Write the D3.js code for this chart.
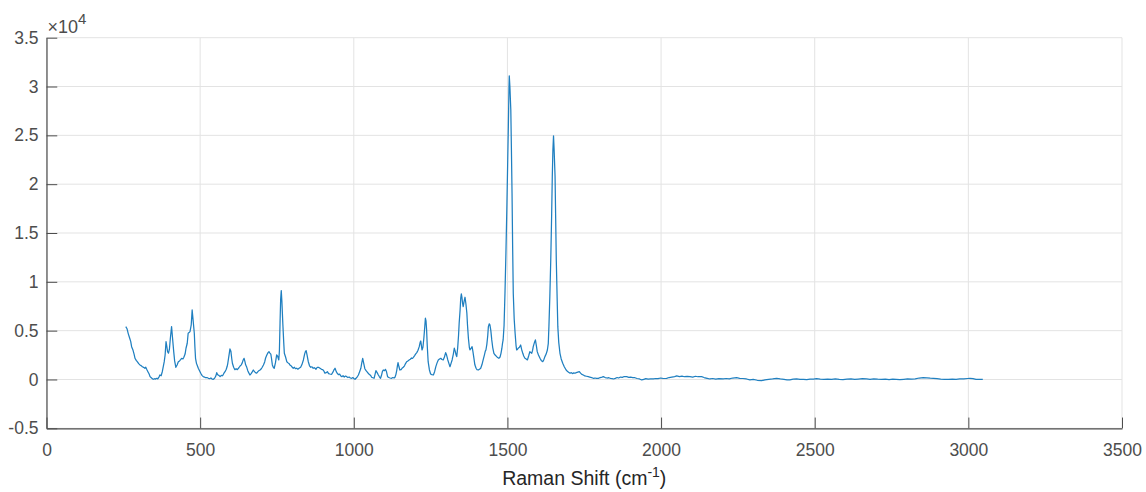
<!DOCTYPE html>
<html>
<head>
<meta charset="utf-8">
<script src="https://cdn.jsdelivr.net/npm/d3@7"></script>
<style>
  html, body { margin: 0; padding: 0; background: #ffffff; }
  svg { display: block; font-family: "Liberation Sans", Arial, sans-serif; }
</style>
</head>
<body>
<svg id="chart" width="1146" height="492"></svg>
<script>
// Raman spectrum: shift (cm^-1) and intensity (counts)
const ramanShift = [
  258,262,266,270,274,277,281,285,288,292,296,300,304,308,312,316,320,323,326,330,
  334,337,341,345,348,352,355,359,362,366,369,373,377,380,383,386,389,392,394,397,
  400,403,407,410,414,417,421,425,429,433,437,440,444,447,451,454,458,461,464,467,
  471,474,477,481,483,485,488,491,494,498,502,506,510,514,518,522,527,531,535,539,
  543,547,551,554,557,561,565,569,573,577,581,585,588,590,594,597,600,603,605,609,
  613,617,621,626,630,634,637,640,643,646,648,651,655,658,662,666,670,673,677,680,
  684,688,691,695,699,702,706,710,713,717,721,724,727,730,732,735,738,741,745,749,
  752,756,758,760,762,764,766,769,772,774,778,782,786,790,792,796,800,803,807,810,
  814,818,822,827,831,836,840,843,845,848,852,856,860,864,868,872,877,881,885,890,
  895,899,903,906,910,914,918,922,928,932,935,939,943,946,950,954,958,961,965,969,
  973,977,981,985,989,993,997,1001,1004,1008,1012,1015,1019,1023,1026,1029,1032,1036,1040,1044,
  1047,1051,1055,1058,1062,1066,1069,1072,1076,1080,1083,1087,1090,1093,1096,1100,1103,1106,1110,1114,
  1118,1123,1127,1131,1134,1137,1140,1142,1144,1147,1150,1154,1157,1161,1165,1168,1172,1176,1180,1184,
  1188,1191,1194,1198,1201,1205,1209,1213,1216,1218,1220,1222,1225,1228,1231,1233,1235,1237,1239,1242,
  1246,1250,1254,1259,1263,1267,1271,1275,1279,1283,1287,1291,1295,1299,1302,1306,1310,1313,1316,1320,
  1324,1327,1330,1333,1335,1338,1341,1343,1346,1348,1350,1352,1354,1356,1359,1362,1365,1368,1370,1373,
  1376,1378,1381,1385,1388,1391,1394,1398,1401,1405,1409,1413,1417,1421,1425,1428,1430,1433,1436,1438,
  1441,1443,1446,1449,1452,1456,1460,1465,1468,1472,1476,1479,1482,1484,1486,1489,1492,1495,1498,1501,
  1503,1505,1506,1508,1511,1513,1515,1517,1519,1522,1525,1528,1530,1533,1535,1539,1543,1546,1550,1553,
  1557,1561,1565,1569,1573,1576,1579,1582,1584,1588,1591,1594,1597,1601,1606,1610,1615,1618,1622,1626,
  1630,1633,1635,1638,1641,1644,1646,1648,1650,1652,1655,1657,1659,1662,1664,1667,1671,1675,1680,1685,
  1691,1695,1699,1704,1708,1712,1716,1720,1724,1729,1734,1738,1742,1747,1752,1757,1763,1768,1774,1779,
  1785,1790,1796,1802,1808,1812,1818,1824,1830,1836,1841,1845,1851,1857,1862,1868,1874,1880,1888,1895,
  1901,1908,1915,1922,1930,1937,1944,1950,1958,1966,1975,1983,1990,1999,2008,2018,2026,2035,2044,2051,
  2060,2068,2076,2085,2094,2103,2112,2120,2132,2140,2150,2159,2168,2178,2188,2202,2212,2222,2233,2246,
  2256,2266,2278,2289,2300,2313,2327,2338,2350,2363,2376,2388,2400,2410,2419,2430,2441,2452,2463,2474,
  2485,2496,2506,2518,2530,2542,2555,2567,2580,2592,2605,2618,2630,2642,2655,2669,2680,2692,2705,2717,
  2730,2742,2754,2765,2777,2790,2802,2815,2827,2840,2853,2865,2876,2886,2898,2910,2922,2935,2948,2960,
  2972,2985,2997,3005,3015,3025,3035,3047
];

const intensity = [
  5410,5200,4700,4300,3900,3360,3050,2600,2170,1950,1800,1620,1490,1420,1300,1240,1150,1250,1050,800,
  560,290,180,60,20,80,40,120,60,250,460,380,820,1310,1800,2510,3880,3300,2850,2700,
  3100,4200,5410,4300,2850,1900,1250,1480,1820,1900,2050,2170,2100,2270,2600,3200,3710,4730,4800,4900,
  5600,7120,6100,4730,3300,2170,1650,1400,1150,900,640,420,290,250,180,200,120,80,150,40,
  20,120,350,700,480,420,290,420,380,620,800,1050,1350,1660,2500,3130,2900,2100,1660,1250,
  1000,1100,1000,1200,1380,1500,1700,2000,2170,1800,1500,1310,900,700,460,600,800,970,800,700,
  640,800,900,970,1100,1250,1490,1800,2200,2510,2750,2850,2700,2600,2200,1490,1250,1150,1700,2510,
  2400,2000,3000,5760,8200,9100,8000,5760,3800,2680,2300,1820,1700,1600,1490,1400,1250,1150,1250,1100,
  1150,1050,1150,1250,1500,2000,2600,2900,2950,2500,1820,1400,1250,1300,1150,1200,1050,1250,1250,1150,
  1040,1000,850,640,700,800,600,560,530,750,950,1150,800,640,500,550,350,290,380,250,
  350,290,200,250,150,120,200,60,20,150,300,460,800,1150,1700,2170,1700,1100,900,750,
  640,500,400,230,180,120,500,900,700,460,300,120,400,800,970,900,1040,850,290,200,
  150,120,200,150,230,500,970,1400,1720,1300,970,1000,1150,1250,1400,1600,1820,1900,2000,2070,
  2200,2150,2270,2450,2600,2750,3000,3360,3800,3940,3500,3020,3300,4220,5400,6270,6000,5070,3500,1820,
  1000,560,500,460,800,1310,1700,2000,2100,2170,2050,2000,2300,2750,2500,2000,1600,1310,1600,2000,
  2600,3200,2900,2500,2340,3200,4560,5800,7120,8300,8760,8400,7800,7460,8000,8420,7700,6780,5600,4220,
  3300,3020,3150,3360,2800,2170,1500,1150,1000,970,1050,1150,1500,2000,2500,2900,3020,3600,4500,5410,
  5700,5600,5000,4050,3300,2680,2500,2340,2250,2170,2300,2680,3200,3700,4050,5500,8830,12800,17370,22500,
  25900,29800,31100,30000,27600,23500,19080,13500,8830,6200,4730,3500,3020,3100,3200,3300,3530,3100,2680,2400,
  2170,2100,2000,2400,2850,2750,2680,3000,3360,3800,4050,3500,2850,2500,2170,1950,1820,2000,2340,2600,
  3020,3700,5410,8500,12240,17000,20780,23500,24950,23500,20780,16500,12240,8000,5410,3800,2680,2100,1660,1300,
  970,850,750,640,700,600,680,640,700,750,800,650,520,460,360,330,290,250,200,120,
  150,120,120,200,250,290,200,150,180,100,80,50,120,200,150,250,220,300,290,220,
  250,200,180,100,50,-50,20,80,30,60,50,100,80,150,100,120,200,250,300,360,
  300,350,280,320,290,250,330,280,290,200,120,50,100,30,80,50,100,60,150,180,
  120,100,50,-50,0,-80,-120,-50,20,50,120,50,20,-30,-50,30,60,0,20,-20,
  40,30,80,30,10,40,20,60,10,-10,30,50,0,40,80,50,20,70,30,10,
  40,-20,30,10,-20,20,50,30,60,150,180,170,140,120,80,40,20,0,30,20,
  50,60,100,120,80,20,10,0
];

// Axis ticks
const xTicks = [0, 500, 1000, 1500, 2000, 2500, 3000, 3500];
const yTicks = [-0.5, 0, 0.5, 1, 1.5, 2, 2.5, 3, 3.5];
const yExponent = 4;

const svg = d3.select("#chart");
const margin = { left: 46.5, right: 24, top: 37.7, bottom: 63.7 };
const W = 1146, H = 492;
const plotW = W - margin.left - margin.right;
const plotH = H - margin.top - margin.bottom;

const x = d3.scaleLinear().domain([0, 3500]).range([margin.left, margin.left + plotW]);
const y = d3.scaleLinear().domain([-0.5, 3.5]).range([margin.top + plotH, margin.top]);

const textColor = "#4d4d4d";
const axisColor = "#4d4d4d";
const gridColor = "#e3e3e3";
const tickLen = 10.75;
const fontFamily = "'Liberation Sans', Arial, sans-serif";

// grid
const grid = svg.append("g");
grid.selectAll("line.gx").data(xTicks).enter().append("line")
  .attr("x1", d => x(d)).attr("x2", d => x(d))
  .attr("y1", margin.top).attr("y2", margin.top + plotH)
  .attr("stroke", gridColor).attr("stroke-width", 1);
grid.selectAll("line.gy").data(yTicks).enter().append("line")
  .attr("x1", margin.left).attr("x2", margin.left + plotW)
  .attr("y1", d => y(d)).attr("y2", d => y(d))
  .attr("stroke", gridColor).attr("stroke-width", 1);

// spectrum
const pts = ramanShift.map((s, i) => [s, intensity[i] / Math.pow(10, yExponent)]);
const line = d3.line().x(d => x(d[0])).y(d => y(d[1]));
svg.append("path")
  .datum(pts)
  .attr("d", line)
  .attr("fill", "none")
  .attr("stroke", "#1f7fc0")
  .attr("stroke-width", 1.25)
  .attr("stroke-linejoin", "round");

// axes (ticks pointing inward)
const fmt = d => String(d);
const xAxis = d3.axisBottom(x).tickValues(xTicks).tickFormat(fmt)
  .tickSizeInner(-tickLen).tickSizeOuter(0).tickPadding(15);
const yAxis = d3.axisLeft(y).tickValues(yTicks).tickFormat(fmt)
  .tickSizeInner(-tickLen).tickSizeOuter(0).tickPadding(19);

const gx = svg.append("g").attr("transform", `translate(0,${margin.top + plotH})`).call(xAxis);
const gy = svg.append("g").attr("transform", `translate(${margin.left},0)`).call(yAxis);

[gx, gy].forEach(g => {
  g.select(".domain").attr("stroke", axisColor).attr("stroke-width", 1.2);
  g.selectAll(".tick line").attr("stroke", axisColor).attr("stroke-width", 1);
  g.selectAll(".tick text")
    .attr("fill", textColor)
    .style("font-size", "17.5px")
    .style("font-family", fontFamily);
});
gy.selectAll(".tick text").attr("x", -8);

// exponent label
const expLabel = svg.append("text")
  .attr("x", margin.left + 1)
  .attr("y", 33)
  .attr("fill", textColor)
  .style("font-size", "18px");
expLabel.append("tspan").text("\u00D710");
expLabel.append("tspan").attr("dy", -9).style("font-size", "15px").text(String(yExponent));

// x-axis title
const xTitle = svg.append("text")
  .attr("x", margin.left + plotW / 2)
  .attr("y", 485)
  .attr("text-anchor", "middle")
  .attr("fill", "#262626")
  .style("font-size", "19.5px");
xTitle.append("tspan").text("Raman Shift (cm");
xTitle.append("tspan").attr("dy", -8).style("font-size", "14px").text("-1");
xTitle.append("tspan").attr("dy", 8).text(")");
</script>
</body>
</html>
